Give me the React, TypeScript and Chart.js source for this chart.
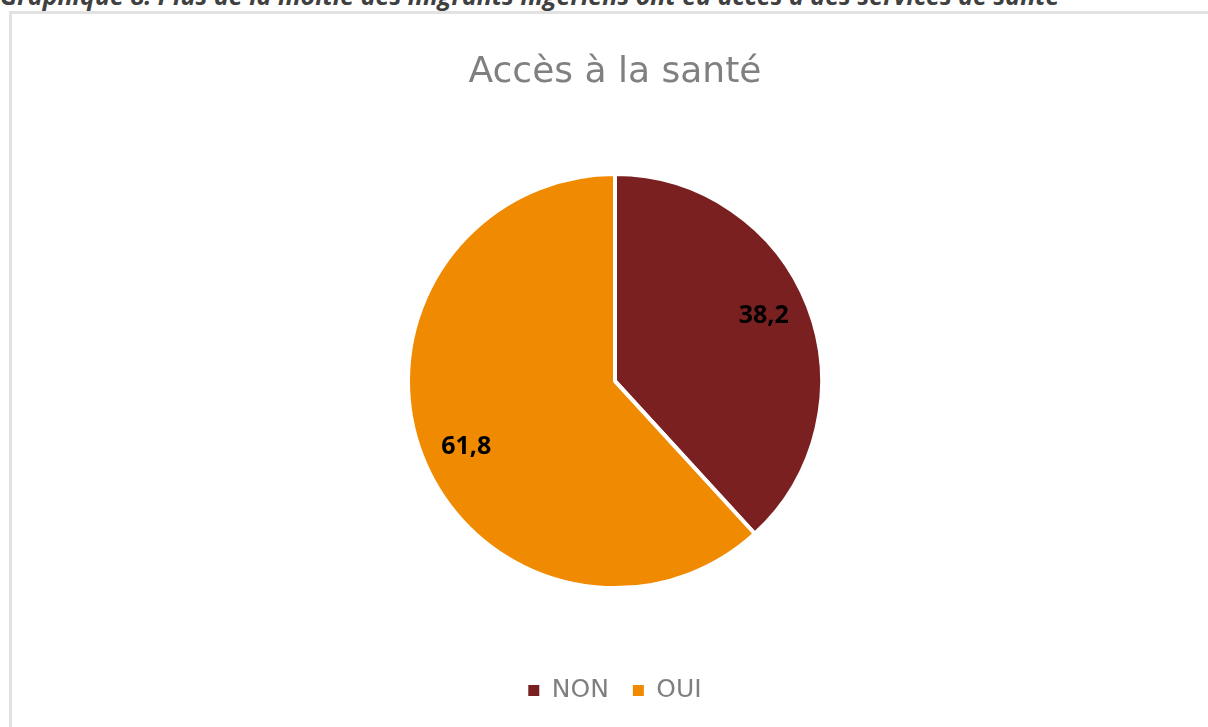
import React, { useEffect, useRef } from "react";
import { Chart, registerables } from "chart.js";

Chart.register(...registerables);

const categories = ["NON", "OUI"];
const values = [38.2, 61.8];
const colors = ["#7B2020", "#F08A00"];
const chartTitle = "Accès à la santé";
const caption =
  "Graphique 8: Plus de la moitié des migrants nigériens ont eu accès à des services de santé";

const labelPlugin = {
  id: "sliceLabels",
  afterDatasetsDraw(chart: any) {
    const ctx = chart.ctx;
    const meta = chart.getDatasetMeta(0);
    ctx.save();
    ctx.font = "bold 25px 'Open Sans'";
    ctx.fillStyle = "#000000";
    ctx.textAlign = "center";
    ctx.textBaseline = "middle";
    meta.data.forEach((arc: any, i: number) => {
      const p = arc.getProps(["x", "y", "startAngle", "endAngle", "outerRadius"], true);
      const mid = (p.startAngle + p.endAngle) / 2 - 0.043;
      const r = p.outerRadius * 0.785;
      const txt = values[i].toFixed(1).replace(".", ",");
      ctx.fillText(txt, p.x + Math.cos(mid) * r, p.y + Math.sin(mid) * r);
    });
    ctx.restore();
  },
};

export default function App() {
  const ref = useRef<HTMLCanvasElement>(null);
  useEffect(() => {
    if (!ref.current) return;
    const baseGen = (Chart as any).overrides.pie.plugins.legend.labels.generateLabels;
    const chart = new Chart(ref.current, {
      type: "pie",
      data: {
        labels: categories,
        datasets: [
          {
            data: values,
            backgroundColor: colors,
            borderColor: "#ffffff",
            borderWidth: 4,
          },
        ],
      },
      options: {
        responsive: false,
        animation: false,
        radius: 207,
        layout: { padding: { left: 22, top: 0, right: 0, bottom: 14 } },
        plugins: {
          title: {
            display: true,
            text: chartTitle,
            color: "#808080",
            font: { family: "'DejaVu Sans'", size: 36, weight: "normal" },
            padding: { top: 51, bottom: 14 },
          },
          legend: {
            display: true,
            position: "bottom",
            labels: {
              color: "#7f7f7f",
              font: { family: "'DejaVu Sans'", size: 25 },
              boxWidth: 11,
              boxHeight: 11,
              padding: 24,
              generateLabels: (c: any) =>
                baseGen(c).map((it: any) => ({ ...it, lineWidth: 0, strokeStyle: "rgba(0,0,0,0)" })),
            },
          },
          tooltip: { enabled: false },
        },
      } as any,
      plugins: [labelPlugin],
    });
    return () => chart.destroy();
  }, []);

  return (
    <div
      style={{
        position: "fixed",
        left: 0,
        top: 0,
        width: 1208,
        height: 727,
        overflow: "hidden",
        background: "#ffffff",
      }}
    >
      <div
        style={{
          position: "absolute",
          left: 0,
          top: -17,
          whiteSpace: "nowrap",
          fontFamily: "'Open Sans'",
          fontStyle: "italic",
          fontWeight: "bold",
          fontSize: 25,
          lineHeight: "25px",
          color: "#404040",
        }}
      >
        {caption}
      </div>
      <div
        style={{
          position: "absolute",
          left: 9,
          top: 11,
          width: 1300,
          height: 800,
          border: "3px solid #e2e2e2",
          boxSizing: "border-box",
        }}
      />
      <canvas
        ref={ref}
        width={1208}
        height={727}
        style={{ position: "absolute", left: 0, top: 0, display: "block" }}
      />
    </div>
  );
}
